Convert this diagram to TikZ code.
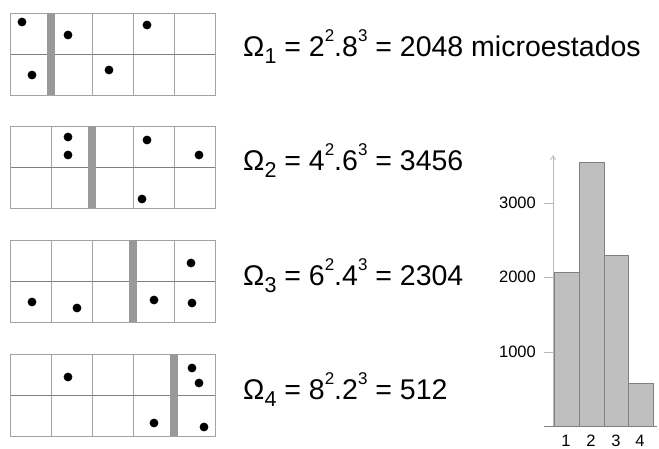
\documentclass[tikz,border=0pt]{standalone}
\usepackage{fontspec}
\setmainfont{Liberation Sans}
\usetikzlibrary{arrows.meta}

% subscript and exponent in the formula lines
\newcommand\omsub[1]{\raisebox{-0.28em}{\fontsize{21.5}{21.5}\selectfont #1}}
\newcommand\pw[1]{\raisebox{0.5em}{\fontsize{17}{17}\selectfont #1}}

\definecolor{gridline}{gray}{0.64}
\definecolor{midline}{gray}{0.5}
\definecolor{wallgray}{gray}{0.6}
\definecolor{barfill}{gray}{0.75}
\definecolor{baredge}{gray}{0.5}
\definecolor{axisgray}{gray}{0.72}

\tikzset{
  formula/.style={anchor=base west, inner sep=0pt, font=\fontsize{28.5}{28.5}\selectfont},
  ticklabel/.style={anchor=east, inner sep=0pt, font=\fontsize{16.5}{16.5}\selectfont},
  catlabel/.style={anchor=base, inner sep=0pt, font=\fontsize{16.5}{16.5}\selectfont},
  particle/.style={fill=black},
  chartbar/.style={fill=barfill, draw=baredge, line width=0.8pt},
}

% #1 top edge, #2 wall position, #3 list of particle positions
\newcommand\cellbox[3]{%
  \foreach \cx in {51,92,133,174}
    \draw[gridline, line width=0.9pt] (\cx,#1) -- (\cx,#1+82);
  \draw[midline, line width=0.9pt] (10,#1+41) -- (215,#1+41);
  \draw[gridline, line width=0.9pt] (10,#1) rectangle (215,#1+82);
  \fill[wallgray] (#2-4,#1) rectangle (#2+4,#1+82);
  \foreach \p in {#3}
    \fill[particle] \p circle (4.4);
}

\begin{document}
\begin{tikzpicture}[x=1pt, y=-1pt]
\useasboundingbox (0,0) rectangle (659,448);

% the four wall positions
\cellbox{13}{51}{(22,22),(68,35),(147,25),(32,75),(109,70)}
\cellbox{126}{92}{(68,137),(68,155),(147,140),(199,155),(142,199)}
\cellbox{240}{133}{(191,263),(32,302),(77,308),(154,300),(192,303)}
\cellbox{354}{174}{(68,377),(192,368),(199,383),(154,423),(204,427)}

% multiplicities
\node[formula] (om1) at (243,56) {Ω\omsub{1} = 2\pw{2}.8\pw{3} = 2048 microestados};
\node[formula] (om2) at (243,170) {Ω\omsub{2} = 4\pw{2}.6\pw{3} = 3456};
\node[formula] (om3) at (243,285) {Ω\omsub{3} = 6\pw{2}.4\pw{3} = 2304};
\node[formula] (om4) at (243,399) {Ω\omsub{4} = 8\pw{2}.2\pw{3} = 512};

% histogram
\coordinate (origin) at (553,426);
\coordinate (ytop) at (553,155);
\draw[chartbar] (554,426) rectangle (579,272);
\draw[chartbar] (579,426) rectangle (604,162);
\draw[chartbar] (604,426) rectangle (628,255);
\draw[chartbar] (628,426) rectangle (653,383);
\draw[axisgray, line width=0.8pt, -{Straight Barb[length=4pt,width=5pt]}] (origin) -- (ytop);
\draw[gray, line width=0.9pt] (544,426) -- (657,426);
\foreach \v/\yy in {3000/203,2000/277,1000/352}{
  \draw[axisgray, line width=0.8pt] (544,\yy) -- (553,\yy);
  \node[ticklabel] (t\v) at (536,\yy) {\v};
}
\foreach \k/\xx in {1/566,2/591,3/616,4/640}
  \node[catlabel] (c\k) at (\xx,446) {\k};
\end{tikzpicture}
\end{document}
